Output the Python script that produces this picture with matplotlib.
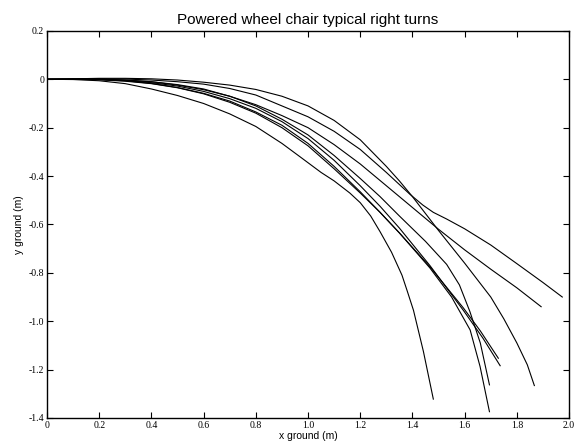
import numpy as np
import matplotlib.pyplot as plt
from matplotlib.ticker import FixedLocator, FixedFormatter

# trayectorias (x, y en metros)
a_x = [0, 0.1, 0.2, 0.3, 0.4, 0.5, 0.6, 0.7, 0.8, 0.9, 1.0, 1.1, 1.2, 1.3,
       1.39, 1.44, 1.48, 1.53, 1.6, 1.7, 1.8, 1.9, 1.974]
a_y = [0, 0.001, 0.002, 0.001, -0.003, -0.01, -0.02, -0.038, -0.065, -0.11,
       -0.155, -0.215, -0.29, -0.385, -0.475, -0.52, -0.55, -0.577, -0.618,
       -0.685, -0.762, -0.84, -0.90]

b_x = [0, 0.1, 0.2, 0.3, 0.4, 0.5, 0.6, 0.7, 0.8, 0.9, 1.0, 1.1, 1.2, 1.3,
       1.4, 1.5, 1.6, 1.7, 1.8, 1.893]
b_y = [0, 0.001, 0.0, -0.003, -0.01, -0.024, -0.043, -0.07, -0.105, -0.15,
       -0.2, -0.27, -0.35, -0.44, -0.53, -0.62, -0.705, -0.785, -0.862, -0.94]

c_x = [0, 0.1, 0.2, 0.3, 0.4, 0.5, 0.6, 0.7, 0.8, 0.9, 1.0, 1.1, 1.2, 1.3,
       1.35, 1.4, 1.5, 1.6, 1.7, 1.75, 1.8, 1.84, 1.867]
c_y = [0, 0.002, 0.004, 0.004, 0.002, -0.003, -0.012, -0.024, -0.042, -0.07,
       -0.11, -0.17, -0.25, -0.36, -0.42, -0.485, -0.625, -0.76, -0.9, -0.99,
       -1.09, -1.18, -1.266]

d_x = [0, 0.1, 0.2, 0.3, 0.4, 0.5, 0.6, 0.7, 0.8, 0.9, 1.0, 1.1, 1.2, 1.276,
       1.35, 1.467, 1.595, 1.67, 1.736]
d_y = [0, 0.0, 0.0, -0.005, -0.014, -0.028, -0.05, -0.08, -0.12, -0.175,
       -0.245, -0.335, -0.44, -0.525, -0.615, -0.77, -0.955, -1.07, -1.184]

e_x = [0, 0.1, 0.2, 0.3, 0.4, 0.5, 0.6, 0.7, 0.8, 0.9, 1.0, 1.1, 1.2, 1.276,
       1.35, 1.467, 1.595, 1.66, 1.729]
e_y = [0, 0.0, -0.001, -0.006, -0.017, -0.034, -0.058, -0.09, -0.135, -0.19,
       -0.265, -0.36, -0.465, -0.55, -0.635, -0.775, -0.945, -1.04, -1.153]

f_x = [0, 0.1, 0.2, 0.3, 0.4, 0.5, 0.6, 0.7, 0.8, 0.9, 1.0, 1.1, 1.2, 1.276,
       1.35, 1.45, 1.531, 1.58, 1.62, 1.66, 1.695]
f_y = [0, 0.0, 0.0, -0.004, -0.01, -0.022, -0.04, -0.07, -0.11, -0.165,
       -0.23, -0.315, -0.41, -0.485, -0.565, -0.67, -0.765, -0.85, -0.96,
       -1.09, -1.263]

g_x = [0, 0.1, 0.2, 0.3, 0.4, 0.5, 0.6, 0.7, 0.8, 0.9, 1.0, 1.1, 1.2, 1.276,
       1.35, 1.467, 1.55, 1.621, 1.659, 1.695]
g_y = [0, 0.0, -0.002, -0.008, -0.018, -0.035, -0.06, -0.095, -0.14, -0.2,
       -0.275, -0.37, -0.47, -0.55, -0.635, -0.78, -0.9, -1.036, -1.187, -1.374]

h_x = [0, 0.1, 0.2, 0.3, 0.4, 0.5, 0.6, 0.7, 0.8, 0.9, 0.969, 1.05, 1.1, 1.16,
       1.2, 1.24, 1.276, 1.32, 1.36, 1.38, 1.404, 1.442, 1.48]
h_y = [0, -0.001, -0.006, -0.018, -0.04, -0.067, -0.1, -0.143, -0.195, -0.265,
       -0.32, -0.385, -0.42, -0.47, -0.51, -0.565, -0.63, -0.715, -0.81,
       -0.875, -0.955, -1.125, -1.322]

curvas = [(a_x, a_y), (b_x, b_y), (c_x, c_y), (d_x, d_y),
          (e_x, e_y), (f_x, f_y), (g_x, g_y), (h_x, h_y)]

x_ticks = [0, 0.2, 0.4, 0.6, 0.8, 1.0, 1.2, 1.4, 1.6, 1.8, 2.0]
x_labels = ["0", "0.2", "0.4", "0.6", "0.8", "1.0", "1.2", "1.4", "1.6", "1.8", "2.0"]
y_ticks = [0.2, 0, -0.2, -0.4, -0.6, -0.8, -1.0, -1.2, -1.4]
y_labels = ["0.2", "0", "-0.2", "-0.4", "-0.6", "-0.8", "-1.0", "-1.2", "-1.4"]

fig = plt.figure(figsize=(5.83, 4.48), dpi=100)
ax = fig.add_axes([0.0806, 0.067, 0.8955, 0.864])

for cx, cy in curvas:
    ax.plot(cx, cy, color='black', linewidth=0.8, solid_joinstyle='round')

ax.set_xlim(0, 2.0)
ax.set_ylim(-1.4, 0.2)

ax.xaxis.set_major_locator(FixedLocator(x_ticks))
ax.xaxis.set_major_formatter(FixedFormatter(x_labels))
ax.yaxis.set_major_locator(FixedLocator(y_ticks))
ax.yaxis.set_major_formatter(FixedFormatter(y_labels))
ax.tick_params(direction='in', top=True, right=True, length=4, width=0.8,
               labelsize=7, pad=2)
for lab in ax.get_xticklabels() + ax.get_yticklabels():
    lab.set_fontfamily('Liberation Serif')
for s in ax.spines.values():
    s.set_linewidth(1.0)

ax.set_title("Powered wheel chair typical right turns", fontsize=11,
             family='Liberation Sans', pad=5)
ax.set_xlabel("x ground (m)", fontsize=7.5, family='Liberation Sans', labelpad=1)
ax.set_ylabel("y ground (m)", fontsize=7.5, family='Liberation Sans', labelpad=3)

fig.savefig("out.png", dpi=100)
